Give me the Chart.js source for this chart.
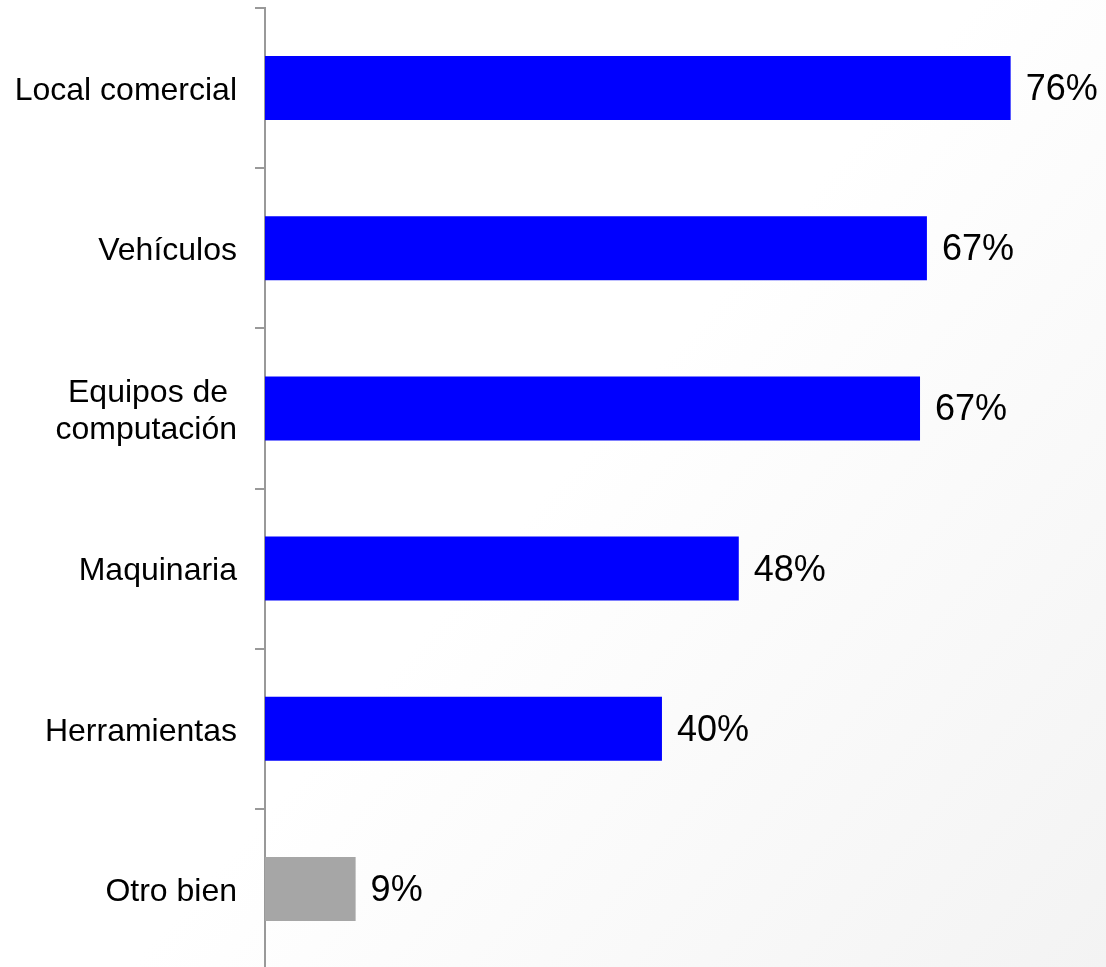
<!DOCTYPE html>
<html>
<head>
<meta charset="utf-8">
<script src="https://cdn.jsdelivr.net/npm/chart.js@4"></script>
<style>
  html, body { margin: 0; padding: 0; overflow: hidden; background: #fff; }
  #wrap { width: 1106px; height: 969px; position: relative; }
</style>
</head>
<body>
<div id="wrap"><canvas id="barGrafico"></canvas></div>
<script>
// categorias y valores (porcentaje)
const categorias = [
  "Local comercial",
  "Vehículos",
  ["Equipos de ", "computación"],
  "Maquinaria",
  "Herramientas",
  "Otro bien",
];
const valores = [75.7, 67.2, 66.5, 48.1, 40.3, 9.2];
const colores = ["#0000FF", "#0000FF", "#0000FF", "#0000FF", "#0000FF", "#A6A6A6"];

// fondo con degradado suave
const fondo = {
  id: "fondo",
  beforeDraw(chart) {
    const ctx = chart.ctx;
    const g = ctx.createLinearGradient(0, 0, chart.width, chart.height);
    g.addColorStop(0, "#ffffff");
    g.addColorStop(0.5, "#ffffff");
    g.addColorStop(1, "#f3f3f3");
    ctx.save();
    ctx.fillStyle = g;
    ctx.fillRect(0, 0, chart.width, chart.height);
    ctx.restore();
  },
};

// etiquetas de valor al final de cada barra
const etiquetas = {
  id: "etiquetas",
  afterDatasetsDraw(chart) {
    const ctx = chart.ctx;
    const meta = chart.getDatasetMeta(0);
    ctx.save();
    ctx.font = "36px 'Liberation Sans', Arial, sans-serif";
    ctx.fillStyle = "#000";
    ctx.textBaseline = "middle";
    ctx.textAlign = "left";
    meta.data.forEach((bar, i) => {
      ctx.fillText(Math.round(valores[i]) + "%", bar.x + 15, bar.y + 2);
    });
    ctx.restore();
  },
};

let barGrafico = document.getElementById("barGrafico");
const config = {
  type: "bar",
  data: {
    labels: categorias,
    datasets: [
      {
        data: valores,
        backgroundColor: colores,
        barPercentage: 0.4,
        categoryPercentage: 1,
      },
    ],
  },
  options: {
    indexAxis: "y",
    responsive: true,
    maintainAspectRatio: false,
    animation: false,
    layout: { padding: { top: 8, right: 53, bottom: 0, left: 0 } },
    plugins: {
      legend: { display: false },
      tooltip: { enabled: false },
    },
    scales: {
      x: {
        display: false,
        min: 0,
        max: 80,
      },
      y: {
        offset: true,
        afterFit(scale) {
          scale.width = 265;
          scale.paddingTop = 0;
          scale.paddingBottom = 0;
        },
        grid: {
          display: true,
          offset: true,
          drawOnChartArea: false,
          drawTicks: true,
          tickLength: 10,
          color: "#999999",
          lineWidth: 2,
        },
        border: { display: true, color: "#999999", width: 2 },
        ticks: {
          color: "#000",
          padding: 18,
          labelOffset: 3,
          font: { family: "'Liberation Sans', Arial, sans-serif", size: 32, lineHeight: 1.15 },
        },
      },
    },
  },
  plugins: [fondo, etiquetas],
};

let myGraph = new Chart(barGrafico, config);
</script>
</body>
</html>
